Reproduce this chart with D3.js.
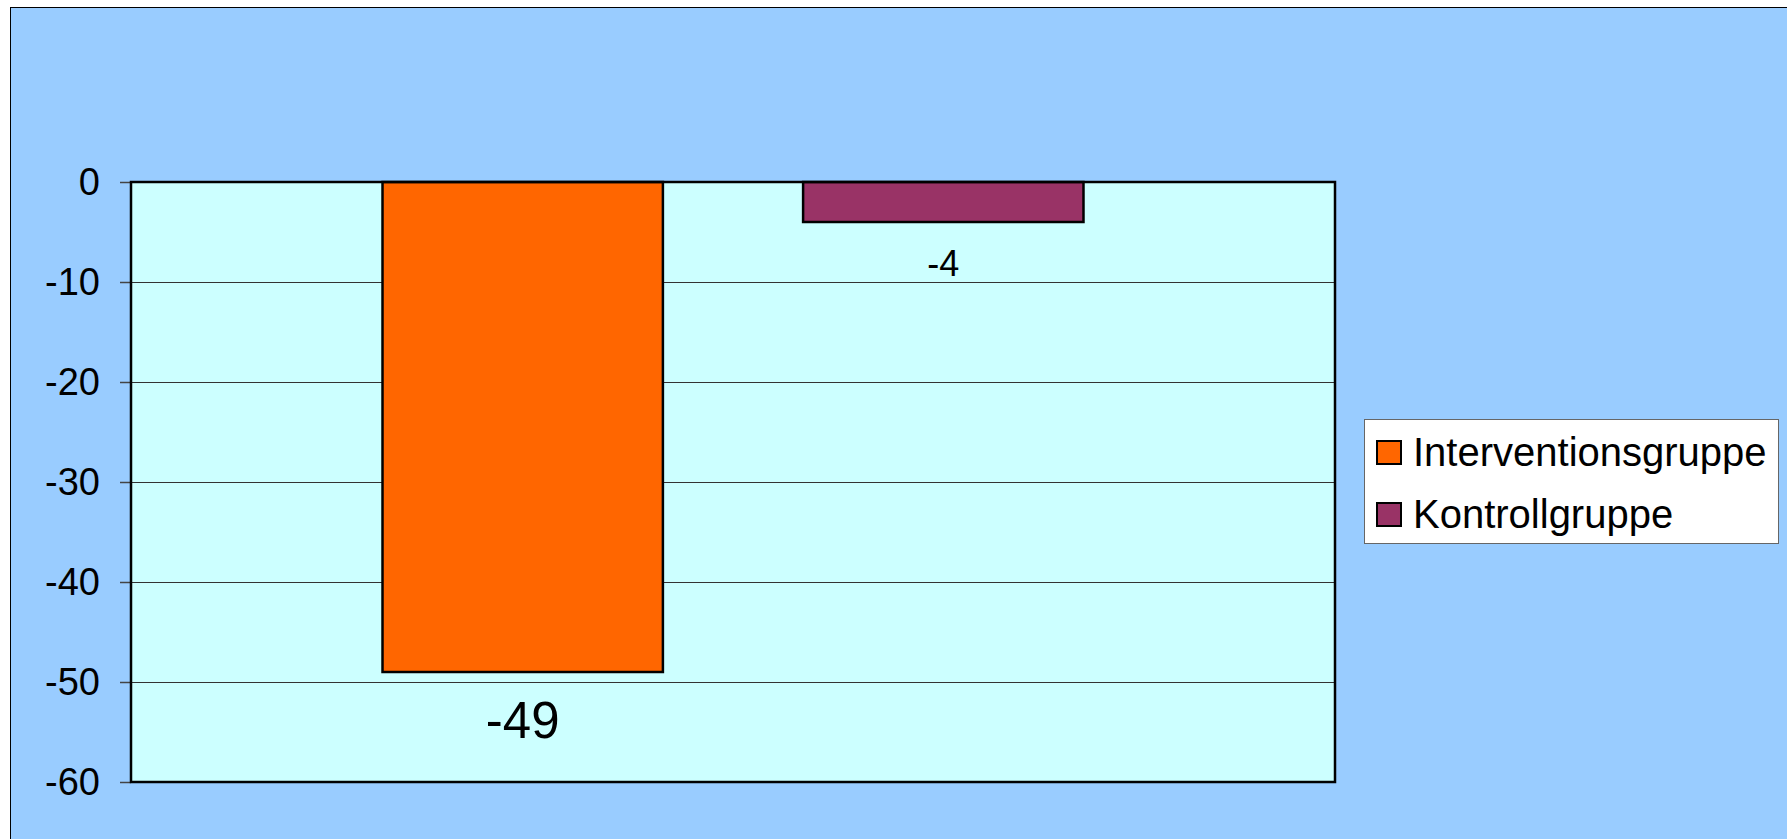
<!DOCTYPE html>
<html><head><meta charset="utf-8">
<script src="https://cdn.jsdelivr.net/npm/d3@7/dist/d3.min.js"></script>
<style>
html,body{margin:0;padding:0;background:#fff;}
svg{display:block;font-family:"Liberation Sans",Arial,sans-serif;}
</style></head>
<body>
<svg id="chart" width="1787" height="839"></svg>
<script>
const seriesNames = ["Interventionsgruppe", "Kontrollgruppe"];
const seriesValues = [-49, -4];
const seriesColors = ["#FF6600", "#993366"];
const labelFontSizes = [51, 36];
const yTicks = [0, -10, -20, -30, -40, -50, -60];
const yTickLabels = ["0", "-10", "-20", "-30", "-40", "-50", "-60"];

const svg = d3.select("#chart");
const plot = {left: 131, right: 1335, top: 182, bottom: 782};

// chart background
svg.append("rect").attr("x", 10.5).attr("y", 7.5).attr("width", 1800).attr("height", 900)
  .attr("fill", "#99CCFF").attr("stroke", "#000").attr("stroke-width", 1);

const y = d3.scaleLinear().domain([-60, 0]).range([plot.bottom, plot.top]);
const x = d3.scaleBand().domain(seriesNames).range([plot.left, plot.right])
  .paddingInner(1/3).paddingOuter(0.598);

// plot area
svg.append("rect").attr("x", plot.left).attr("y", plot.top)
  .attr("width", plot.right - plot.left).attr("height", plot.bottom - plot.top)
  .attr("fill", "#CCFFFF");

// gridlines
svg.append("g").selectAll("line").data(yTicks).join("line")
  .attr("x1", plot.left).attr("x2", plot.right)
  .attr("y1", d => y(d) + 0.5).attr("y2", d => y(d) + 0.5)
  .attr("stroke", "#333").attr("stroke-width", 1);

// y axis
const yAxis = d3.axisLeft(y).tickValues(yTicks).tickSize(11).tickPadding(20)
  .tickFormat((d, i) => yTickLabels[i]);
const ga = svg.append("g").attr("transform", `translate(${plot.left},0)`).call(yAxis);
ga.select(".domain").remove();
ga.selectAll(".tick line").attr("stroke", "#444").attr("stroke-width", 1.5);
ga.selectAll(".tick text").attr("font-size", 38).attr("fill", "#000")
  .attr("font-family", "Liberation Sans, Arial, sans-serif");

// bars
svg.append("g").selectAll("rect").data(seriesValues).join("rect")
  .attr("x", (d, i) => x(seriesNames[i]))
  .attr("y", d => y(Math.max(0, d)))
  .attr("width", x.bandwidth())
  .attr("height", d => Math.abs(y(d) - y(0)))
  .attr("fill", (d, i) => seriesColors[i])
  .attr("stroke", "#000").attr("stroke-width", 2.5);

// plot border
svg.append("rect").attr("x", plot.left).attr("y", plot.top)
  .attr("width", plot.right - plot.left).attr("height", plot.bottom - plot.top)
  .attr("fill", "none").attr("stroke", "#000").attr("stroke-width", 2.5);

// value labels
svg.append("g").selectAll("text").data(seriesValues).join("text")
  .attr("x", (d, i) => x(seriesNames[i]) + x.bandwidth() / 2)
  .attr("y", (d, i) => y(d) + labelFontSizes[i] * 0.8 + 25)
  .attr("text-anchor", "middle")
  .attr("font-size", (d, i) => labelFontSizes[i])
  .attr("fill", "#000")
  .text(d => String(d));

// legend
const lg = svg.append("g");
lg.append("rect").attr("x", 1364.5).attr("y", 419.5).attr("width", 414).attr("height", 124)
  .attr("fill", "#fff").attr("stroke", "#666").attr("stroke-width", 1);
const items = lg.selectAll("g.item").data(seriesNames).join("g").attr("class", "item")
  .attr("transform", (d, i) => `translate(1377,${441 + i * 62})`);
items.append("rect").attr("width", 24).attr("height", 23)
  .attr("fill", (d, i) => seriesColors[i]).attr("stroke", "#000").attr("stroke-width", 2);
items.append("text").attr("x", 36).attr("y", 25).attr("font-size", 40).attr("fill", "#000")
  .text(d => d);
</script>
</body></html>
